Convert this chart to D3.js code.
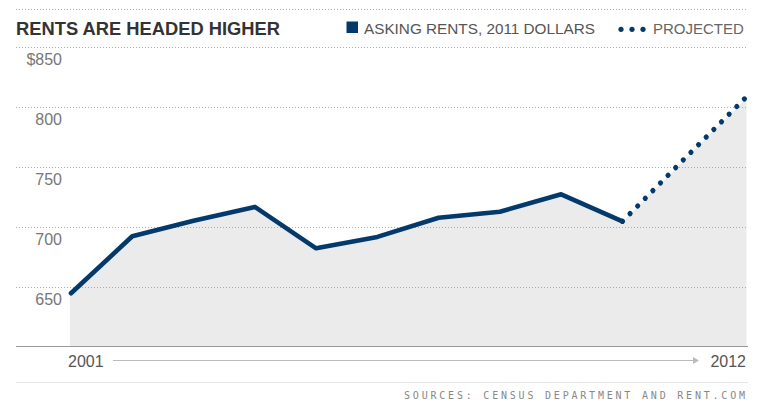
<!DOCTYPE html>
<html><head><meta charset="utf-8">
<script src="https://cdn.jsdelivr.net/npm/d3@7"></script>
<style>html,body{margin:0;padding:0;background:#fff;}svg{display:block;}</style>
</head><body>
<svg id="chart" width="762" height="407"></svg>
<script>
const years = [2001,2002,2003,2004,2005,2006,2007,2008,2009,2010,2011,2012];
const actualRents = [644.5,692,705,716.5,682,691.5,707.5,712.5,727,704.5];
const projectedYears = [2010,2011,2012];
const projectedRents = [704.5,756,807];
const yTicks = [650,700,750,800,850];
const xLabels = ["2001","2012"];
const title = "RENTS ARE HEADED HIGHER";
const legendLabels = ["ASKING RENTS, 2011 DOLLARS","PROJECTED"];
const source = "SOURCES: CENSUS DEPARTMENT AND RENT.COM";

const navy = "#033a6b";
const svg = d3.select("#chart");
const font = "Liberation Sans, Arial, Helvetica, sans-serif";

const x = d3.scaleLinear().domain([2001,2012]).range([71,745]);
const y = d3.scaleLinear().domain([600,850]).range([346.7,46.7]);

// frame lines
svg.append("line").attr("x1",16).attr("x2",748).attr("y1",9.5).attr("y2",9.5)
  .attr("stroke","#aaa").attr("stroke-dasharray","1,2");

// area
const allData = actualRents.map((v,i)=>({yr:years[i],v}))
  .concat(projectedRents.slice(1).map((v,i)=>({yr:projectedYears[i+1],v})));
const area = d3.area().x(d=>x(d.yr)).y0(y(600)).y1(d=>y(d.v));
svg.append("path").datum(allData).attr("d",area).attr("fill","#ebebeb")
  .attr("transform","translate(-1.5,0) scale(1.004,1)");

// gridlines
svg.append("g").selectAll("line").data(yTicks).join("line")
  .attr("x1",16).attr("x2",748)
  .attr("y1",d=>Math.round(y(d))+0.5).attr("y2",d=>Math.round(y(d))+0.5)
  .attr("stroke","#aaa").attr("stroke-dasharray","1,2");

// y labels
svg.append("g").selectAll("text").data(yTicks).join("text")
  .attr("x",62).attr("y",d=>y(d)+18.3).attr("text-anchor","end")
  .attr("font-family",font).attr("font-size",16).attr("fill","#777")
  .text(d=>d===850?"$"+d:d);

// baseline
svg.append("line").attr("x1",16).attr("x2",748).attr("y1",346.5).attr("y2",346.5)
  .attr("stroke","#999").attr("stroke-width",1.2);
svg.append("line").attr("x1",16).attr("x2",748).attr("y1",382.5).attr("y2",382.5)
  .attr("stroke","#e6e6e6").attr("stroke-width",1);

// actual line
const line = d3.line().x(d=>x(d.yr)).y(d=>y(d.v));
svg.append("path").datum(actualRents.map((v,i)=>({yr:years[i],v})))
  .attr("d",line).attr("fill","none").attr("stroke",navy)
  .attr("stroke-width",4.6).attr("stroke-linejoin","round").attr("stroke-linecap","round");

// projected dotted
const proj = svg.append("path").datum(projectedRents.map((v,i)=>({yr:projectedYears[i],v})))
  .attr("d",line).attr("fill","none").attr("stroke",navy)
  .attr("stroke-width",5.2).attr("stroke-linecap","round");
const L = proj.node().getTotalLength();
proj.attr("stroke-dasharray","0.01," + ((L-1)/16).toFixed(3));

// x axis labels and arrow
svg.append("text").attr("x",68).attr("y",366.5).attr("font-family",font)
  .attr("font-size",16).attr("fill","#555").text(xLabels[0]);
svg.append("text").attr("x",746).attr("y",366.5).attr("text-anchor","end").attr("font-family",font)
  .attr("font-size",16).attr("fill","#555").text(xLabels[1]);
svg.append("line").attr("x1",113).attr("x2",694).attr("y1",360.5).attr("y2",360.5)
  .attr("stroke","#bbb").attr("stroke-width",1);
svg.append("path").attr("d","M693,357 L699,360.5 L693,364 Z").attr("fill","#bbb");

// title
svg.append("text").attr("x",16).attr("y",35.3).attr("font-family",font)
  .attr("font-weight","bold").attr("font-size",18).attr("fill","#333")
  .attr("textLength",264).attr("lengthAdjust","spacingAndGlyphs").text(title);

// legend
svg.append("rect").attr("x",346.5).attr("y",21.5).attr("width",11.5).attr("height",11.5).attr("fill",navy);
svg.append("text").attr("x",364).attr("y",34).attr("font-family",font)
  .attr("font-size",15.3).attr("fill","#555").text(legendLabels[0]);
svg.append("g").selectAll("circle").data([0,1,2]).join("circle")
  .attr("cx",d=>621+d*11).attr("cy",29.3).attr("r",2.6).attr("fill",navy);
svg.append("text").attr("x",653).attr("y",34).attr("font-family",font)
  .attr("font-size",15).attr("fill","#666").text(legendLabels[1]);

// source
svg.append("text").attr("x",404).attr("y",399).attr("font-family","DejaVu Sans Mono, monospace")
  .attr("font-size",10).attr("fill","#888")
  .attr("textLength",341).attr("lengthAdjust","spacing").text(source);
</script>
</body></html>
